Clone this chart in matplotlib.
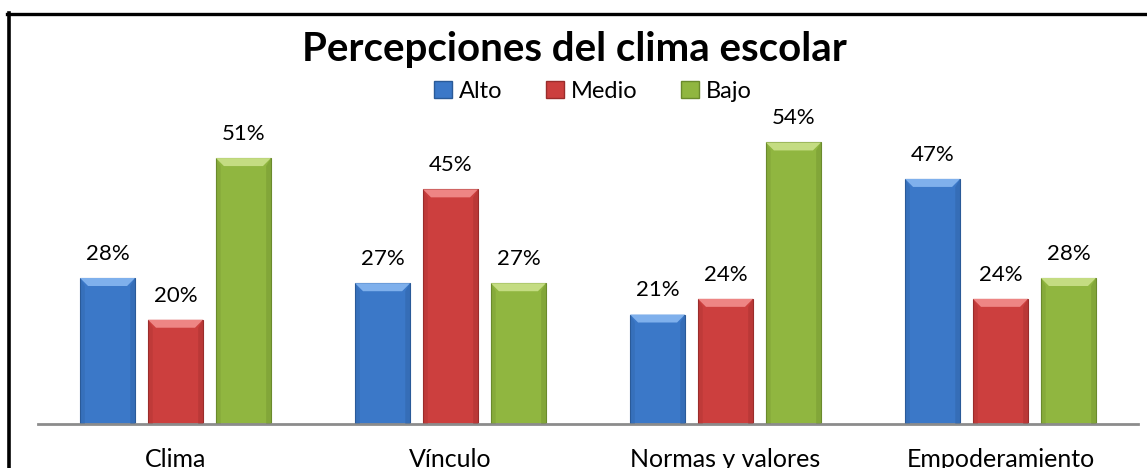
import matplotlib
matplotlib.use("Agg")
import matplotlib.pyplot as plt
from matplotlib.patches import Polygon, Patch
from matplotlib.lines import Line2D
import numpy as np

categories = ["Clima", "Vínculo", "Normas y valores", "Empoderamiento"]
series_names = ["Alto", "Medio", "Bajo"]
alto = [28, 27, 21, 47]
medio = [20, 45, 24, 24]
bajo = [51, 27, 54, 28]
title = "Percepciones del clima escolar"

colors = ["#3b78c8", "#cc3f3e", "#90b640"]
light = ["#7fb0ec", "#ee8584", "#c4dc82"]
dark = ["#2a5a98", "#9a2c2b", "#6a8a2c"]

plt.rcParams['font.family'] = ['Lato', 'DejaVu Sans']

W, H, DPI = 1147, 468, 100
fig = plt.figure(figsize=(W / DPI, H / DPI), dpi=DPI)
ymax = 60
ax_left, ax_right, ax_bottom = 38, 1138, 424
ppu = 146 / 28.0
ax_top = ax_bottom - ymax * ppu
ax = fig.add_axes([ax_left / W, 1 - ax_bottom / H, (ax_right - ax_left) / W, (ax_bottom - ax_top) / H])

x = np.arange(len(categories))
bw = 0.2
off = 0.247
series = [alto, medio, bajo]
gpx = (ax_right - ax_left) / len(categories)
bev_x = 8 / gpx
bev_y = 8 / ppu
for i, vals in enumerate(series):
    xs = x + (i - 1) * off
    bars = ax.bar(xs, vals, width=bw, color=colors[i], edgecolor=dark[i], linewidth=0.8, zorder=2)
    for b, v in zip(bars, vals):
        x0 = b.get_x(); x1 = x0 + b.get_width(); h = b.get_height()
        ax.add_patch(Polygon([[x0, h], [x1, h], [x1 - bev_x, h - bev_y], [x0 + bev_x, h - bev_y]],
                             closed=True, facecolor=light[i], edgecolor='none', zorder=3))
        ax.add_patch(Polygon([[x0, h], [x0 + bev_x * 0.6, h - bev_y], [x0 + bev_x * 0.6, 0], [x0, 0]],
                             closed=True, facecolor=dark[i], alpha=0.25, edgecolor='none', zorder=3))
        ax.add_patch(Polygon([[x1, h], [x1 - bev_x * 0.6, h - bev_y], [x1 - bev_x * 0.6, 0], [x1, 0]],
                             closed=True, facecolor=dark[i], alpha=0.35, edgecolor='none', zorder=3))
        ax.annotate(f"{v}%", (b.get_x() + b.get_width() / 2, h), xytext=(0, 13),
                    textcoords='offset points', ha='center', va='baseline', fontsize=16, color='black')

ax.set_xlim(-0.5, len(categories) - 0.5)
ax.set_ylim(0, ymax)
for s in ['top', 'right', 'left']:
    ax.spines[s].set_visible(False)
ax.spines['bottom'].set_color('#8c8c8c')
ax.spines['bottom'].set_linewidth(2)
ax.set_yticks([])
ax.set_xticks(x)
ax.set_xticklabels(categories, fontsize=18)
ax.tick_params(axis='x', length=0, pad=17)

fig.text(574 / W, 1 - 49 / H, title, ha='center', va='center', fontsize=29, fontweight='bold')

handles = [Patch(facecolor=colors[i], edgecolor=dark[i], label=series_names[i]) for i in range(3)]
fig.legend(handles=handles, loc='center', bbox_to_anchor=(593 / W, 1 - 91 / H), ncol=3, frameon=False,
           fontsize=17, handlelength=0.75, handleheight=0.75, handletextpad=0.3, columnspacing=1.85)

fig.add_artist(Line2D([7.5 / W, 1], [1 - 13.5 / H, 1 - 13.5 / H], color='black', lw=2.4, transform=fig.transFigure))
fig.add_artist(Line2D([9 / W, 9 / W], [0, 1 - 12.5 / H], color='black', lw=2.6, transform=fig.transFigure))

fig.savefig("out.png", dpi=DPI)
